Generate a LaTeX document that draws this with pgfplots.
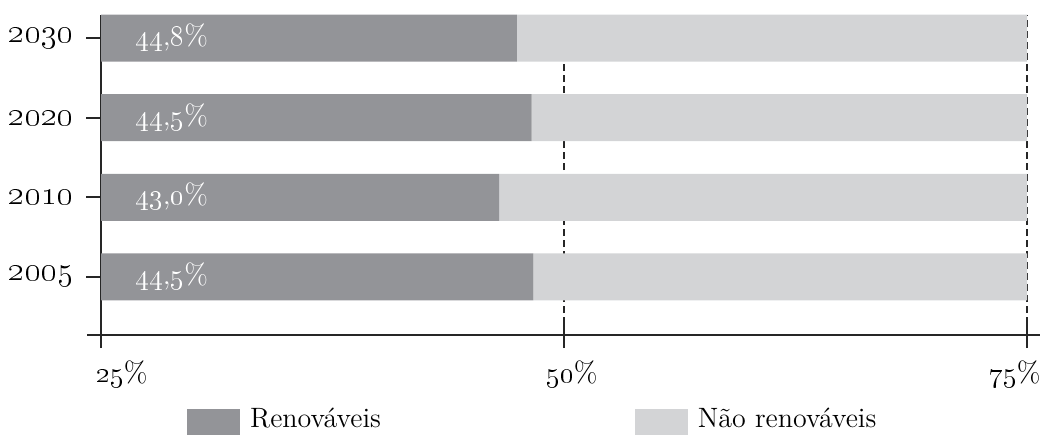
\documentclass[border=0pt]{standalone}
\usepackage{pgfplots}
\pgfplotsset{compat=1.18}
\definecolor{darkg}{HTML}{939498}
\definecolor{lightg}{HTML}{D3D4D6}
\begin{document}
\begin{tikzpicture}
\begin{axis}[
  scale only axis, width=463pt, height=160pt,
  xbar stacked, bar width=23.5pt,
  xmin=25, xmax=75, ymin=-0.73, ymax=3.29,
  xtick={25,50,75},
  xticklabels={\hspace*{21pt}\oldstylenums{25}\%,\hspace*{8pt}\oldstylenums{50}\%,\oldstylenums{75}\%\hspace*{12pt}},
  ytick={0,1,2,3},
  yticklabels={\oldstylenums{2005},\oldstylenums{2010},\oldstylenums{2020},\oldstylenums{2030}},
  axis x line*=bottom, axis y line*=left,
  axis line style={line width=1.3pt, black!85},
  x axis line style={shorten <=-7pt, shorten >=-6.5pt},
  y axis line style={shorten <=-6pt},
  xtick align=center, ytick align=outside,
  major tick length=13pt,
  tick style={black!85, line width=1pt},
  ytick style={xshift=5.5pt},
  xmajorgrids, grid style={black!85, line width=0.9pt, dash pattern=on 3.5pt off 2pt},
  yticklabel style={font=\fontsize{16}{18}\selectfont, xshift=3pt},
  xticklabel style={font=\fontsize{14.5}{16}\selectfont, yshift=-3pt},
  legend style={at={(0.093,-0.228)}, anchor=north west, draw=none, legend columns=2,
    inner sep=0pt, outer sep=0pt, fill=none,
    nodes={inner sep=0pt},
    font=\fontsize{14}{16}\selectfont,
    /tikz/every odd column/.append style={column sep=5pt},
    /tikz/every even column/.append style={column sep=127pt}},
]
\addplot[fill=darkg, draw=none,
  legend image code/.code={\fill[darkg] (0pt,-11pt) rectangle (26.5pt,5pt);}]
  coordinates {(48.35,0) (46.5,1) (48.25,2) (47.45,3)};
\addlegendentry{Renováveis}
\addplot[fill=lightg, draw=none,
  legend image code/.code={\fill[lightg] (0pt,-11pt) rectangle (26.5pt,5pt);}]
  coordinates {(26.65,0) (28.5,1) (26.75,2) (27.55,3)};
\addlegendentry{Não renováveis}
\coordinate (l0) at (axis cs:25,0);
\coordinate (l1) at (axis cs:25,1);
\coordinate (l2) at (axis cs:25,2);
\coordinate (l3) at (axis cs:25,3);
\end{axis}
\begin{scope}[every node/.style={anchor=base west, white, inner sep=0pt, font=\fontsize{14.5}{16}\selectfont, xshift=17pt, yshift=-3.75pt}]
\node at (l3) {\oldstylenums{44},\oldstylenums{8}\%};
\node at (l2) {\oldstylenums{44},\oldstylenums{5}\%};
\node at (l1) {\oldstylenums{43},\oldstylenums{0}\%};
\node at (l0) {\oldstylenums{44},\oldstylenums{5}\%};
\end{scope}
\pgfresetboundingbox
\useasboundingbox ([xshift=-50.5pt,yshift=-49.5pt]current axis.south west) rectangle ([xshift=7pt,yshift=7.5pt]current axis.north east);
\end{tikzpicture}
\end{document}
